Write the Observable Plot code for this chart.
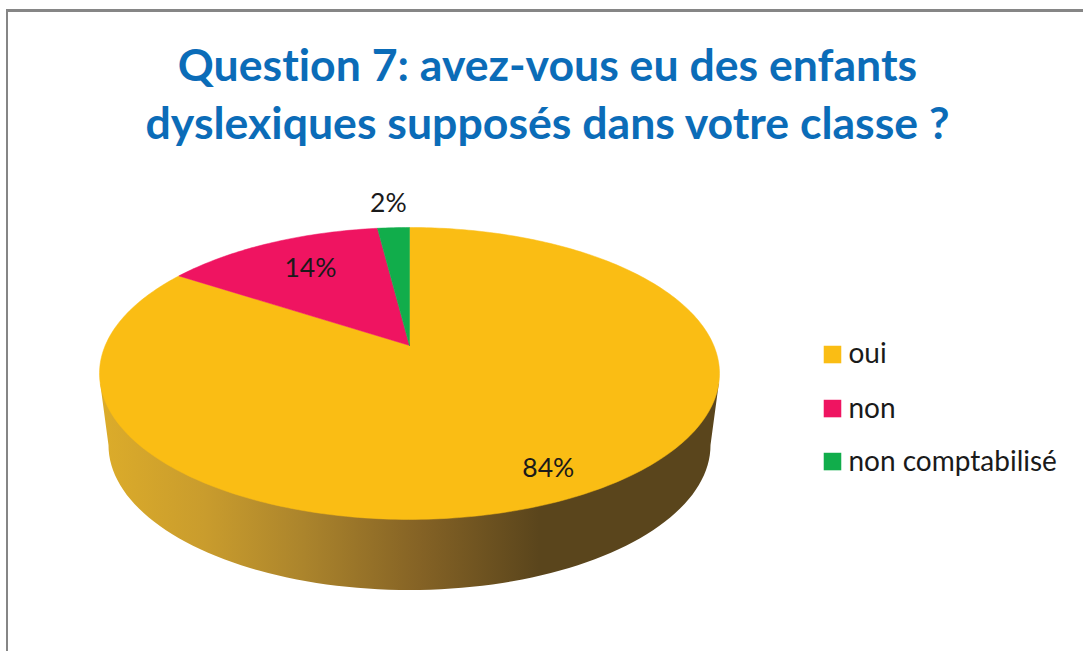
<!DOCTYPE html>
<html lang="fr">
<head>
<meta charset="utf-8">
<script src="https://cdn.jsdelivr.net/npm/d3@7"></script>
<script src="https://cdn.jsdelivr.net/npm/@observablehq/plot@0.6"></script>
<style>
  html, body { margin: 0; padding: 0; background: #fff; }
  #page { position: relative; width: 1083px; height: 651px; overflow: hidden; background: #fff; }
  #frame { position: absolute; left: 6px; top: 9px; width: 1100px; height: 700px; border-style: solid; border-color: #868686; border-width: 3px 2px; box-sizing: border-box; pointer-events: none; }
  #title { position: absolute; left: 8px; width: 1079px; top: 35px; text-align: center; color: #0b6cb8;
           font: 700 44.6px/58px Lato, sans-serif; font-variant-ligatures: none; }
  #chart { position: absolute; left: 0; top: 165px; }
  #chart svg { display: block; background: transparent; overflow: visible; }
  #chart text { font-variant-ligatures: none; }
</style>
</head>
<body>
<div id="page">
  <div id="frame"></div>
  <div id="title"></div>
  <div id="chart"></div>
</div>
<script>
const titleLines = ["Question 7: avez-vous eu des enfants", "dyslexiques supposés dans votre classe ?"];
const categories = ["oui", "non", "non comptabilisé"];
const percents = [84.2, 13.8, 2];
const colors = ["#fabd14", "#ef1461", "#11ad4b"];
const labelRadii = [0.85, 0.72, 1.25];
const labelNudges = [-0.016, 0.016, -0.006];
const legendRows = [0.13, -0.24, -0.603];

document.getElementById("title").innerHTML = titleLines.join("<br>");

// Perspective view of the unit pie: rim is the ellipse x²+y²=1, apex sits above its centre.
const tilt = 0.1918;
const apexY = 0.192;
const project = (angle, r = 1) => {
  const u = r * Math.sin(angle), v = r * Math.cos(angle), w = 1 + tilt * v;
  return {x: Math.sqrt(1 - tilt * tilt) * u / w, y: apexY + 0.963 * v / w};
};

const ends = Array.from(d3.cumsum(percents));
const total = ends[ends.length - 1];
const toAngle = (p) => (p / total) * 2 * Math.PI;

const sliceRows = categories.flatMap((category, i) => {
  const a0 = toAngle(i ? ends[i - 1] : 0), a1 = toAngle(ends[i]);
  const n = Math.max(4, Math.ceil((a1 - a0) * 60));
  const rim = d3.range(n + 1).map((k) => project(a0 + (a1 - a0) * k / n));
  return [{x: 0, y: apexY}, ...rim, {x: 0, y: apexY}].map((p, k) => ({...p, category, k}));
});

const labelRows = categories.map((category, i) => {
  const mid = toAngle((i ? ends[i - 1] : 0) + percents[i] / 2);
  const p = project(mid, labelRadii[i]);
  return {x: p.x + labelNudges[i], y: p.y, text: `${Math.round(percents[i])}%`};
});

// Side wall: lower rim shifted down and slightly narrowed by the perspective.
const wallRows = [
  {x: -0.9977, y: -0.068},
  ...d3.range(0, 181, 2).map((d) => {
    const a = Math.PI + (d * Math.PI) / 180;
    return {x: 0.971 * Math.cos(a), y: -0.49 + 0.993 * Math.sin(a)};
  }),
  {x: 0.9977, y: -0.068},
  ...d3.range(0, 181, 2).map((d) => {
    const a = (d * Math.PI) / 180;
    return {x: 0.99 * Math.cos(a), y: -0.068 + 0.2 * Math.sin(a)};
  })
];

const gradientDefs = () => {
  const ns = "http://www.w3.org/2000/svg";
  const defs = document.createElementNS(ns, "defs");
  const g = document.createElementNS(ns, "linearGradient");
  g.setAttribute("id", "wallShade");
  g.setAttribute("x1", "0"); g.setAttribute("x2", "1");
  g.setAttribute("y1", "0"); g.setAttribute("y2", "0");
  [[0, "#dcac2a"], [0.17, "#c99c2d"], [0.33, "#ab842c"], [0.52, "#846225"], [0.71, "#5a451c"], [1, "#5a451c"]]
    .forEach(([o, c]) => {
      const s = document.createElementNS(ns, "stop");
      s.setAttribute("offset", o);
      s.setAttribute("stop-color", c);
      g.appendChild(s);
    });
  defs.appendChild(g);
  return defs;
};

const legendData = categories.map((category, i) => ({category, y: legendRows[i]}));

const chart = Plot.plot({
  width: 1083,
  height: 486,
  margin: 0,
  style: {background: "transparent"},
  x: {domain: [-1, 1], range: [99, 719], axis: null},
  y: {domain: [-1, 1], range: [354, 62], axis: null},
  color: {domain: categories, range: colors},
  marks: [
    gradientDefs,
    Plot.line(wallRows, {x: "x", y: "y", fill: "url(#wallShade)", stroke: "none"}),
    Plot.line(sliceRows, {x: "x", y: "y", z: "category", fill: "category", stroke: "category", strokeWidth: 0.5}),
    Plot.text(labelRows, {x: "x", y: "y", text: "text", fill: "#1a1a1a", fontSize: 26.5, fontFamily: "Lato, sans-serif"}),
    Plot.dot(legendData, {x: () => 1.3645, y: "y", symbol: "square", r: 9.9, fill: "category", stroke: "none"}),
    Plot.text(legendData, {x: () => 1.416, y: "y", text: "category", textAnchor: "start", fill: "#1a1a1a", fontSize: 28, fontFamily: "Lato, sans-serif"})
  ]
});
document.getElementById("chart").appendChild(chart);
</script>
</body>
</html>
